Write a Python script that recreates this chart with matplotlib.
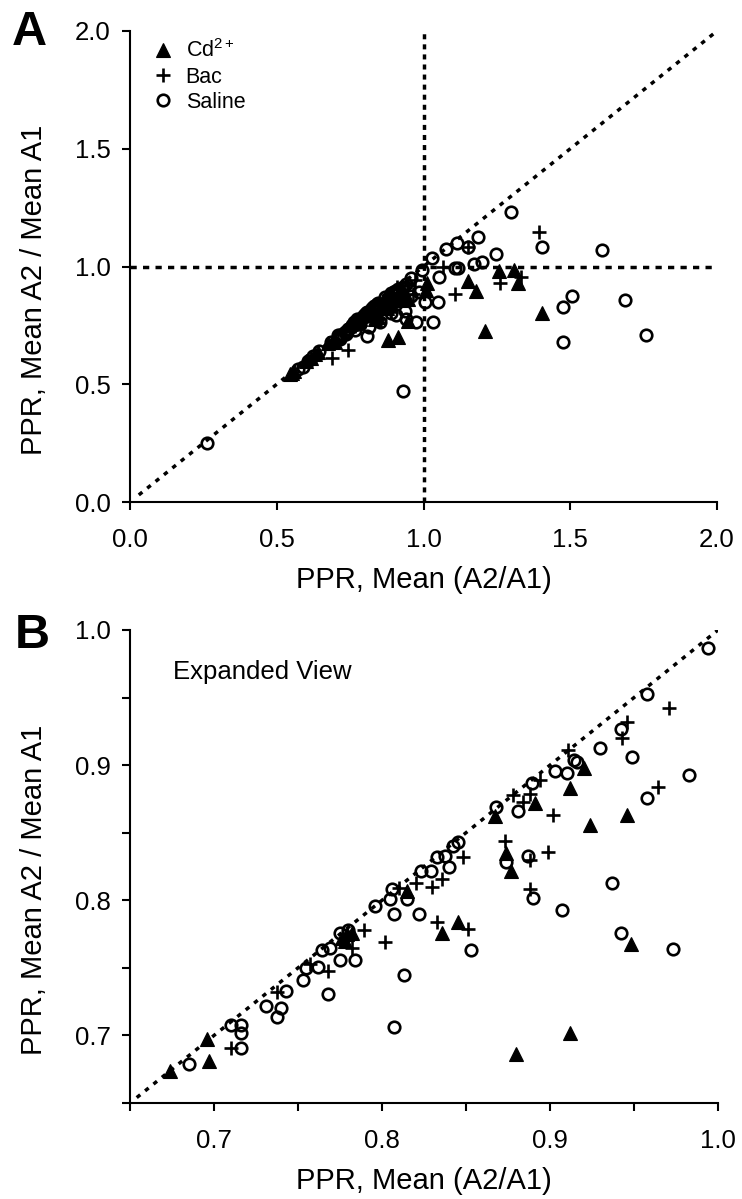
import matplotlib
matplotlib.use("Agg")
import matplotlib.pyplot as plt
from matplotlib.lines import Line2D
import numpy as np

plt.rcParams['font.family'] = ['Liberation Sans', 'DejaVu Sans']
plt.rcParams['mathtext.fontset'] = 'custom'
plt.rcParams['mathtext.rm'] = 'Liberation Sans'
plt.rcParams['mathtext.it'] = 'Liberation Sans:italic'
plt.rcParams['mathtext.bf'] = 'Liberation Sans:bold'

# ---------------- data ----------------
# Points visible in the expanded view (0.65-1.0)
cd_x = [0.674, 0.696, 0.697, 0.776, 0.779, 0.782, 0.778, 0.815, 0.836, 0.845,
        0.880, 0.912, 0.948, 0.867, 0.891, 0.912, 0.920, 0.924, 0.946, 0.874, 0.877]
cd_y = [0.674, 0.697, 0.681, 0.772, 0.775, 0.776, 0.770, 0.807, 0.776, 0.784,
        0.686, 0.702, 0.768, 0.862, 0.872, 0.883, 0.898, 0.856, 0.863, 0.835, 0.822]

bac_x = [0.710, 0.7375, 0.757, 0.768, 0.782, 0.789, 0.802, 0.810, 0.820, 0.830,
         0.833, 0.836, 0.848, 0.851, 0.888, 0.888, 0.873, 0.878, 0.884, 0.888,
         0.894, 0.899, 0.902, 0.911, 0.943, 0.946, 0.964, 0.971]
bac_y = [0.691, 0.732, 0.753, 0.748, 0.765, 0.778, 0.769, 0.809, 0.813, 0.810,
         0.784, 0.816, 0.832, 0.779, 0.808, 0.830, 0.844, 0.878, 0.873, 0.879,
         0.889, 0.836, 0.863, 0.911, 0.920, 0.932, 0.884, 0.942]

sal_x = [0.685, 0.710, 0.716, 0.716, 0.716, 0.731, 0.7375, 0.740, 0.743, 0.753,
         0.755, 0.762, 0.764, 0.769, 0.768, 0.775, 0.784, 0.775, 0.780, 0.796,
         0.805, 0.806, 0.807, 0.815, 0.822, 0.823, 0.829, 0.833, 0.8375, 0.840,
         0.842, 0.845, 0.813, 0.807, 0.853, 0.890, 0.907, 0.937, 0.942, 0.973,
         0.958, 0.942, 0.930, 0.949, 0.983, 0.958, 0.914, 0.916, 0.910, 0.903,
         0.889, 0.881, 0.868, 0.887, 0.874, 0.994]
sal_y = [0.679, 0.708, 0.708, 0.702, 0.691, 0.722, 0.714, 0.720, 0.733, 0.741,
         0.750, 0.751, 0.763, 0.765, 0.731, 0.756, 0.756, 0.776, 0.778, 0.796,
         0.801, 0.808, 0.790, 0.801, 0.790, 0.822, 0.822, 0.832, 0.833, 0.825,
         0.840, 0.843, 0.745, 0.706, 0.763, 0.802, 0.793, 0.813, 0.776, 0.764,
         0.953, 0.927, 0.913, 0.906, 0.893, 0.876, 0.904, 0.902, 0.894, 0.896,
         0.887, 0.866, 0.869, 0.833, 0.828, 0.987]

# Points outside the expanded view (only seen in panel A)
cd_out_x = [0.545, 0.552, 0.560, 0.600, 0.615, 0.630, 0.640, 1.012, 1.008, 1.152,
            1.179, 1.257, 1.308, 1.322, 1.404, 1.210]
cd_out_y = [0.545, 0.548, 0.556, 0.598, 0.612, 0.627, 0.636, 0.930, 0.900, 0.938,
            0.896, 0.981, 0.985, 0.930, 0.803, 0.726]

bac_out_x = [0.688, 0.743, 1.394, 1.261, 1.332, 1.107, 1.152, 1.066]
bac_out_y = [0.611, 0.645, 1.147, 0.930, 0.955, 0.883, 1.083, 1.000]

sal_out_x = [0.262, 0.573, 0.590, 0.605, 0.625, 0.645, 0.930, 1.298, 1.404, 1.608,
             1.186, 1.114, 1.077, 1.152, 1.029, 1.247, 1.199, 1.172, 1.107, 1.118,
             1.053, 1.032, 1.049, 1.005, 1.506, 1.475, 1.687, 1.758, 1.475]
sal_out_y = [0.251, 0.565, 0.573, 0.600, 0.618, 0.640, 0.471, 1.231, 1.083, 1.070,
             1.125, 1.100, 1.074, 1.083, 1.036, 1.053, 1.019, 1.011, 0.994, 0.994,
             0.955, 0.764, 0.849, 0.849, 0.875, 0.828, 0.858, 0.709, 0.679]

legend_labels = [r'Cd$^{2+}$', 'Bac', 'Saline']
ticksA = [0.0, 0.5, 1.0, 1.5, 2.0]
ticksB = [0.65, 0.70, 0.75, 0.80, 0.85, 0.90, 0.95, 1.00]
ticksB_labels = ['', '0.7', '', '0.8', '', '0.9', '', '1.0']
xlabel = 'PPR, Mean (A2/A1)'
ylabel = 'PPR, Mean A2 / Mean A1'

# ---------------- figure ----------------
W, H = 742, 1199
fig = plt.figure(figsize=(W / 100, H / 100), dpi=100)
axA = fig.add_axes([130 / W, 1 - 502 / H, 587 / W, 471 / H])
axB = fig.add_axes([130 / W, 1 - 1103 / H, 588 / W, 473 / H])

tri = dict(marker='^', ls='none', ms=9.5, mfc='black', mec='black', mew=0.8)
plus = dict(marker='+', ls='none', ms=9.5, mec='black', mew=1.9)
circ = dict(marker='o', ls='none', ms=8.3, mfc='none', mec='black', mew=1.9)

all_cd_x = cd_x + cd_out_x
all_cd_y = cd_y + cd_out_y
all_bac_x = bac_x + bac_out_x
all_bac_y = bac_y + bac_out_y
all_sal_x = sal_x + sal_out_x
all_sal_y = sal_y + sal_out_y

diag_style = dict(color='black', lw=2.5, dashes=(1.3, 1.8), dash_capstyle='butt')

for ax in (axA, axB):
    ax.plot(all_sal_x, all_sal_y, **circ)
    ax.plot(all_bac_x, all_bac_y, **plus)
    ax.plot(all_cd_x, all_cd_y, **tri)
    for s in ('top', 'right'):
        ax.spines[s].set_visible(False)
    for s in ('left', 'bottom'):
        ax.spines[s].set_linewidth(1.5)
    ax.tick_params(axis='both', direction='out', length=6, width=1.5,
                   labelsize=18.5, color='black')
    ax.tick_params(axis='y', pad=8)
    ax.tick_params(axis='x', pad=13)
    ax.set_xlabel(xlabel, fontsize=21, labelpad=10)
    ax.set_ylabel(ylabel, fontsize=21)

# Panel A lines
axA.plot([0.03, 2.0], [0.03, 2.0], zorder=0, **diag_style)
axA.plot([1.0, 1.0], [0.0, 2.0], color='black', lw=2.5, dashes=(1.45, 1.45),
         dash_capstyle='butt', zorder=0)
axA.plot([0.0, 2.0], [1.0, 1.0], color='black', lw=2.5, dashes=(1.8, 1.8),
         dash_capstyle='butt', zorder=0)
axA.set_xlim(0, 2)
axA.set_ylim(0, 2)
axA.set_xticks(ticksA)
axA.set_yticks(ticksA)
axA.set_xticklabels([f'{t:.1f}' for t in ticksA])
axA.set_yticklabels([f'{t:.1f}' for t in ticksA])

# Panel B
axB.plot([0.654, 1.0], [0.654, 1.0], zorder=0, **diag_style)
axB.set_xlim(0.65, 1.0)
axB.set_ylim(0.65, 1.0)
axB.set_xticks(ticksB)
axB.set_yticks(ticksB)
axB.set_xticklabels(ticksB_labels)
axB.set_yticklabels(ticksB_labels)

axA.yaxis.set_label_coords(-0.14, 0.45)
axB.yaxis.set_label_coords(-0.14, 0.45)

# Legend
handles = [Line2D([], [], **tri), Line2D([], [], **plus), Line2D([], [], **circ)]
leg = axA.legend(handles, legend_labels, loc='upper left', bbox_to_anchor=(0.038, 0.982),
                 frameon=False, fontsize=15.5, handlelength=1.0, handletextpad=0.55,
                 labelspacing=0.2, borderpad=0.0, borderaxespad=0.0)

axB.text((173 - 130) / 588, 1 - (672 - 630) / 473, 'Expanded View', transform=axB.transAxes,
         fontsize=18.5, ha='left', va='center')

fig.text(12 / W, 1 - 10 / H, 'A', fontsize=35, fontweight='bold', ha='left', va='top')
fig.text(15 / W, 1 - 613 / H, 'B', fontsize=35, fontweight='bold', ha='left', va='top')

fig.savefig('out.png', dpi=100)
